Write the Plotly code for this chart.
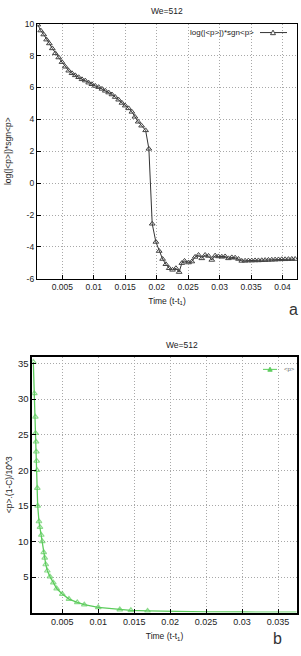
import plotly.graph_objects as go

W, H = 301, 656

# ---------------- data: panel a ----------------
time_a = [0.00111, 0.00157, 0.00205, 0.00250, 0.00294, 0.00341, 0.00389, 0.00443,
          0.00495, 0.00548, 0.00602, 0.00654, 0.00706, 0.00760, 0.00813, 0.00865,
          0.00919, 0.00971, 0.01024, 0.01078, 0.01130, 0.01183, 0.01237, 0.01289,
          0.01341, 0.01395, 0.01448, 0.01500, 0.01554, 0.01606, 0.01654, 0.01706,
          0.01760, 0.01824, 0.01876, 0.01929, 0.01987, 0.02040, 0.02094, 0.02146,
          0.02199, 0.02252, 0.02306, 0.02357, 0.02400, 0.02443, 0.02506, 0.02559,
          0.02611, 0.02665, 0.02717, 0.02770, 0.02824, 0.02876, 0.02929, 0.02982,
          0.03035, 0.03088, 0.03141, 0.03194, 0.03247, 0.03300, 0.03352, 0.03405,
          0.03458, 0.03511, 0.03564, 0.03617, 0.03670, 0.03723, 0.03776, 0.03829,
          0.03882, 0.03935, 0.03988, 0.04041, 0.04094, 0.04147, 0.04200]
logp_a = [9.94, 9.57, 9.32, 9.00, 8.76, 8.45, 8.14, 7.88,
          7.59, 7.30, 7.05, 6.89, 6.76, 6.64, 6.51, 6.43,
          6.30, 6.20, 6.10, 6.02, 5.91, 5.79, 5.68, 5.56,
          5.40, 5.23, 5.03, 4.86, 4.69, 4.47, 4.16, 3.85,
          3.60, 3.31, 2.15, -2.55, -3.69, -4.26, -4.76, -5.09,
          -5.34, -5.44, -5.34, -5.58, -5.02, -4.88, -4.98, -4.92,
          -4.63, -4.51, -4.72, -4.51, -4.57, -4.82, -4.55, -4.60,
          -4.62, -4.60, -4.72, -4.66, -4.68, -4.76, -4.88, -4.87,
          -4.86, -4.86, -4.85, -4.85, -4.84, -4.83, -4.82, -4.81,
          -4.80, -4.79, -4.78, -4.78, -4.77, -4.76, -4.76]

# ---------------- data: panel b ----------------
time_b = [0.00097, 0.00111, 0.00125, 0.00128, 0.00135, 0.00139, 0.00144, 0.00149,
          0.00153, 0.00158, 0.00176, 0.00190, 0.00208, 0.00222, 0.00242, 0.00256,
          0.00270, 0.00292, 0.00329, 0.00375, 0.00422, 0.00500, 0.00593, 0.00708,
          0.00806, 0.01000, 0.01300, 0.01454, 0.01686, 0.02000, 0.02500, 0.03000,
          0.03400, 0.03760]
p_b = [35.2, 30.8, 27.5, 25.2, 24.0, 22.6, 21.3, 20.0,
       17.5, 15.0, 12.8, 12.0, 10.9, 10.0, 8.47, 7.70,
       6.76, 5.88, 5.05, 4.21, 3.38, 2.60, 1.90, 1.43,
       1.11, 0.74, 0.42, 0.32, 0.24, 0.16, 0.11, 0.08,
       0.07, 0.06]

xt_a = [0.005, 0.01, 0.015, 0.02, 0.025, 0.03, 0.035, 0.04]
xl_a = ["0.005", "0.01", "0.015", "0.02", "0.025", "0.03", "0.035", "0.04"]
yt_a = [-6, -4, -2, 0, 2, 4, 6, 8, 10]
yl_a = ["-6", "-4", "-2", "0", "2", "4", "6", "8", "10"]
xt_b = [0.005, 0.01, 0.015, 0.02, 0.025, 0.03, 0.035]
xl_b = ["0.005", "0.01", "0.015", "0.02", "0.025", "0.03", "0.035"]
yt_b = [5, 10, 15, 20, 25, 30, 35]
yl_b = ["5", "10", "15", "20", "25", "30", "35"]

FONT = "Liberation Sans, Arial, sans-serif"
GREEN = "#5ccc5c"
GRAY = "#444444"

def px_x(p):
    return p / W

def px_y(p):
    return 1 - p / H

fig = go.Figure()

fig.add_trace(go.Scatter(
    x=time_a, y=logp_a, xaxis="x", yaxis="y", mode="lines+markers",
    line=dict(color="#333333", width=1),
    marker=dict(symbol="triangle-up-open", size=5, color=GRAY, line=dict(width=1)),
    showlegend=False))

sizes_b = [5 if v > 0.2 else 0 for v in p_b]
fig.add_trace(go.Scatter(
    x=time_b, y=p_b, xaxis="x2", yaxis="y2", mode="lines+markers",
    line=dict(color=GREEN, width=1.3),
    marker=dict(symbol="triangle-up-open", size=sizes_b, color=GREEN, line=dict(width=1.2)),
    showlegend=False))

grid = dict(showgrid=True, gridcolor="#a8a8a8", gridwidth=1, griddash="1px,2px",
            zeroline=False, showline=True, linecolor="black", mirror=True,
            ticks="inside", ticklen=4, tickcolor="black")

tfont = dict(size=8.5, family=FONT, color="#222")

fig.update_layout(
    width=W, height=H, margin=dict(l=0, r=0, t=0, b=0),
    paper_bgcolor="white", plot_bgcolor="white",
    font=dict(family=FONT, size=9, color="#222"),
    xaxis=dict(domain=[px_x(37), px_x(297)], range=[0.00098, 0.0423], anchor="y",
               tickvals=xt_a, ticktext=xl_a, linewidth=1.3,
               tickfont=dict(size=8.5),
               title=dict(text="Time (t-t<sub>1</sub>)", font=tfont, standoff=6),
               **grid),
    yaxis=dict(domain=[px_y(278), px_y(19)], range=[-6, 10], anchor="x",
               tickvals=yt_a, ticktext=yl_a, linewidth=1.3,
               tickfont=dict(size=8.5),
               title=dict(text="log(|&lt;p&gt;|)*sgn&lt;p&gt;", font=tfont, standoff=11),
               **grid),
    xaxis2=dict(domain=[px_x(32.3), px_x(296.7)], range=[0.00083, 0.0376], anchor="y2",
                tickvals=xt_b, ticktext=xl_b, linewidth=1.6,
                tickfont=dict(size=9),
                title=dict(text="Time (t-t<sub>1</sub>)", font=tfont, standoff=7),
                **grid),
    yaxis2=dict(domain=[px_y(617), px_y(357.3)], range=[0, 35.93], anchor="x2",
                tickvals=yt_b, ticktext=yl_b, linewidth=1.6,
                tickfont=dict(size=9.5),
                title=dict(text="&lt;p&gt;.(1-C)/10^3", font=tfont, standoff=4),
                **grid),
)

ann = []
def note(text, x, y, size=9, xanchor="center", yanchor="middle", angle=0, color="#222"):
    ann.append(dict(text=text, x=px_x(x), y=px_y(y), xref="paper", yref="paper",
                    showarrow=False, xanchor=xanchor, yanchor=yanchor,
                    textangle=angle, font=dict(size=size, color=color, family=FONT)))

# titles
note("We=512", 167, 6, size=8.5)
note("We=512", 182, 345, size=8.5)
# panel letters
note("a", 293, 309, size=16, color="#333")
note("b", 277, 643, size=16, color="#333")
# legend texts
note("log(|&lt;p&gt;|)*sgn&lt;p&gt;", 256, 28, size=8, xanchor="right")
note("&lt;p&gt;", 282, 370, size=6, xanchor="left", color="#666")
fig.update_layout(annotations=ann)

def tri(cx, cy, s, color, fill):
    path = "M {:.5f},{:.5f} L {:.5f},{:.5f} L {:.5f},{:.5f} Z".format(
        px_x(cx - s), px_y(cy + s * 0.85), px_x(cx + s), px_y(cy + s * 0.85),
        px_x(cx), px_y(cy - s))
    return dict(type="path", xref="paper", yref="paper", path=path,
                line=dict(color=color, width=1), fillcolor=fill)

fig.update_layout(shapes=[
    dict(type="line", xref="paper", yref="paper", x0=px_x(260), x1=px_x(287),
         y0=px_y(28), y1=px_y(28), line=dict(color="#333", width=1)),
    tri(273, 28, 2.5, GRAY, "white"),
    dict(type="line", xref="paper", yref="paper", x0=px_x(263), x1=px_x(277),
         y0=px_y(370), y1=px_y(370), line=dict(color=GREEN, width=1)),
    tri(270, 370, 2.2, GREEN, GREEN),
])

fig.write_html("out.html")
